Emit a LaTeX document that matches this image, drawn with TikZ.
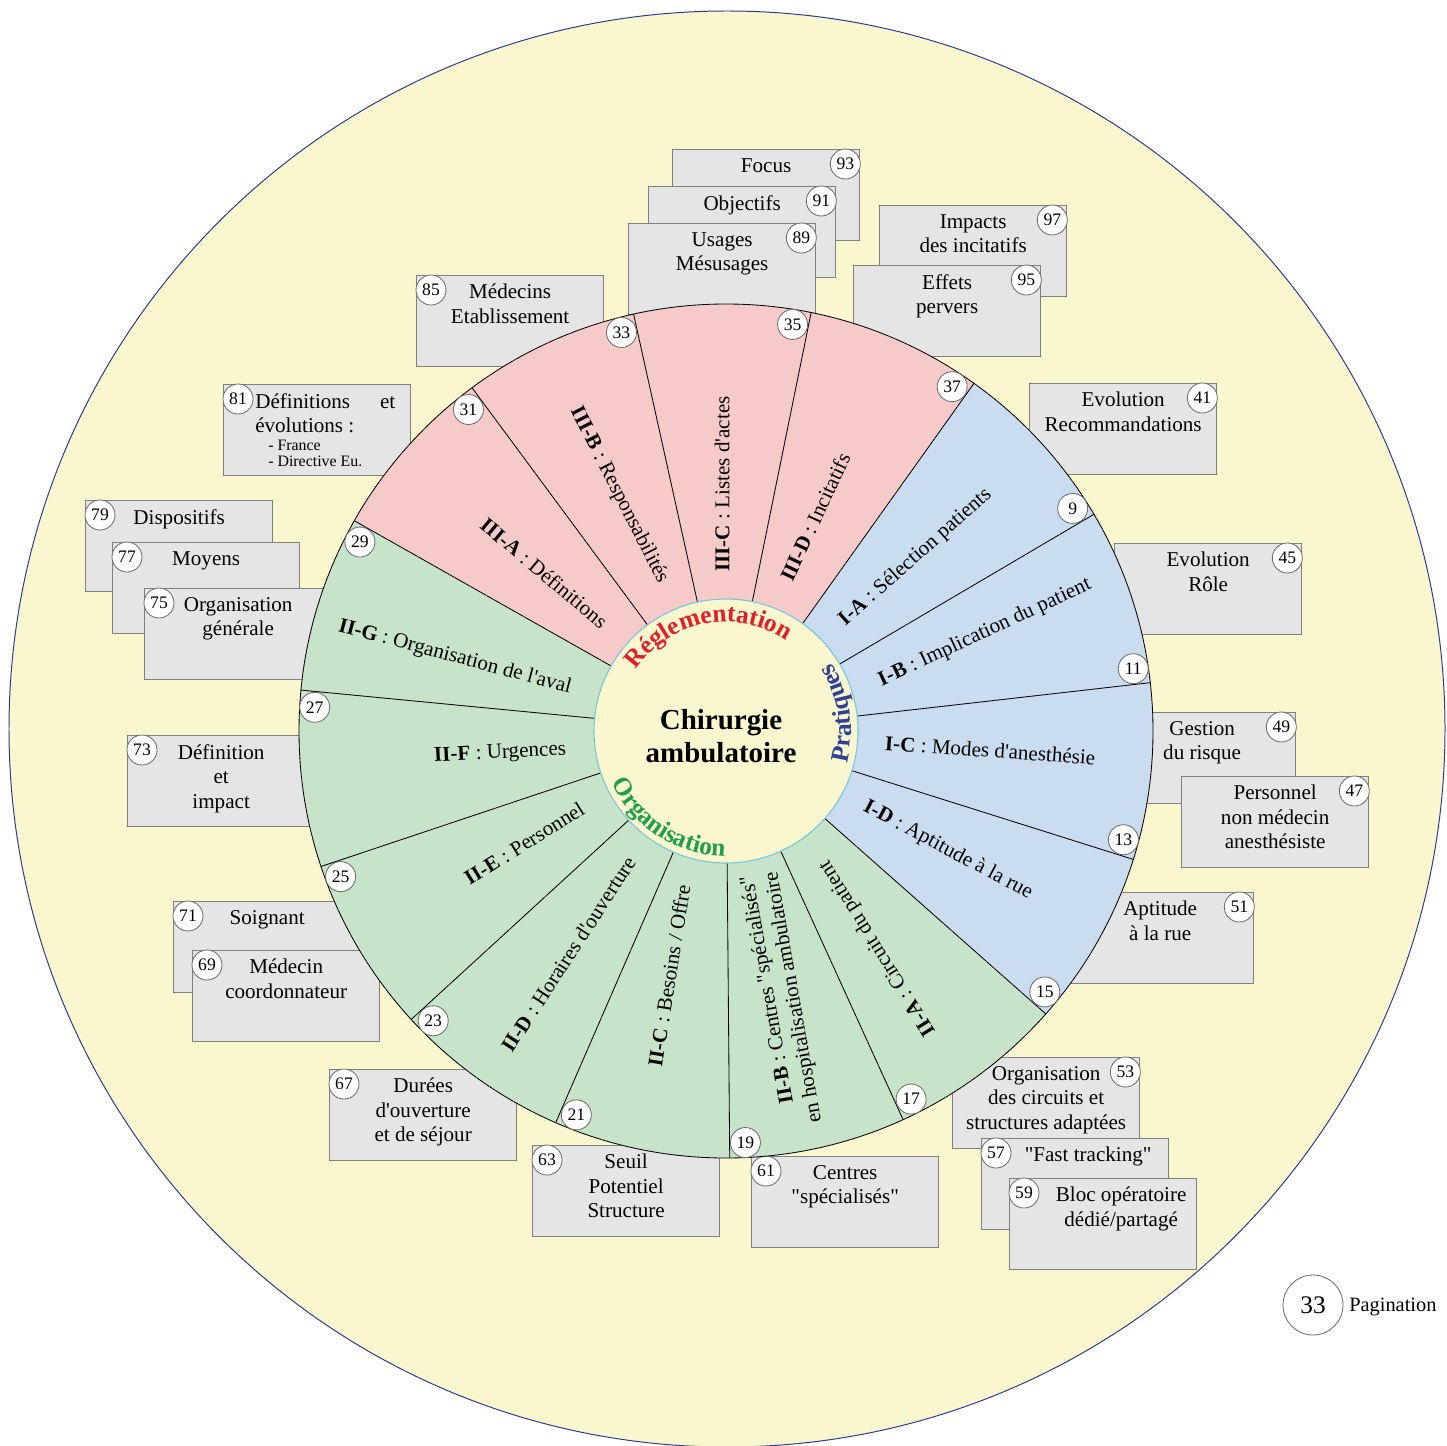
\documentclass[tikz,border=0pt]{standalone}
\usepackage{fontspec}
\setmainfont{Liberation Serif}[Ligatures=TeXOff]
\usetikzlibrary{calc, decorations.text}

\definecolor{bgyellow}{RGB}{250,247,206}
\definecolor{regpink}{RGB}{247,202,202}
\definecolor{pratblue}{RGB}{202,220,240}
\definecolor{orggreen}{RGB}{199,227,201}
\definecolor{boxgray}{RGB}{229,229,229}
\definecolor{boxline}{RGB}{128,128,128}
\definecolor{numline}{RGB}{110,110,110}
\definecolor{ringcyan}{RGB}{120,200,220}
\definecolor{rimblue}{RGB}{40,60,150}
\definecolor{regred}{RGB}{228,30,40}
\definecolor{pratnavy}{RGB}{45,65,150}
\definecolor{orgtext}{RGB}{30,160,75}

\newcommand{\curvefont}{\fontsize{18}{20}\selectfont\bfseries}

\tikzset{infobox/.style={draw=boxline, line width=0.9pt, fill=boxgray, minimum width=4.675cm, minimum height=2.275cm, inner sep=0, anchor=north west}}
\tikzset{boxtext/.style={anchor=north, inner sep=0, align=center, font=\fontsize{15}{17.4}\selectfont}}
\tikzset{num/.style={circle, draw=numline, fill=white, line width=0.6pt, minimum size=0.75cm, inner sep=0, font=\fontsize{12.5}{13}\selectfont}}
\tikzset{seclabel/.style={inner sep=0, font=\fontsize{15}{17.4}\selectfont}}
\tikzset{spoke/.style={line width=0.6pt, black}}

\begin{document}
\begin{tikzpicture}[x=0.025cm, y=-0.025cm]

	% Frame
	\useasboundingbox (0,0) rectangle (1446,1446);
	\fill[white] (0,0) rectangle (1446,1446);
	\draw[fill=bgyellow, draw=rimblue, line width=0.7pt] (727,729) circle (718);

	% Boxes
	%% Reglementation
	\node[infobox] (b93) at (672,149) {};
	\node[boxtext] (t93) at ($(b93.north)+(0,9)$) {Focus};
	\node[num] (n93) at ($(b93.north east)+(-15,15)$) {93};
	\node[infobox] (b91) at (648,186) {};
	\node[boxtext] (t91) at ($(b91.north)+(0,9)$) {Objectifs};
	\node[num] (n91) at ($(b91.north east)+(-15,15)$) {91};
	\node[infobox] (b89) at (628,223) {};
	\node[boxtext] (t89) at ($(b89.north)+(0,9)$) {Usages\\Mésusages};
	\node[num] (n89) at ($(b89.north east)+(-15,15)$) {89};
	\node[infobox] (b85) at (416,275) {};
	\node[boxtext] (t85) at ($(b85.north)+(0,9)$) {Médecins\\Etablissement};
	\node[num] (n85) at ($(b85.north west)+(15,15)$) {85};
	\node[infobox] (b97) at (879,205) {};
	\node[boxtext] (t97) at ($(b97.north)+(0,9)$) {Impacts\\des incitatifs};
	\node[num] (n97) at ($(b97.north east)+(-15,15)$) {97};
	\node[infobox] (b95) at (853,265) {};
	\node[boxtext] (t95) at ($(b95.north)+(0,9)$) {Effets\\pervers};
	\node[num] (n95) at ($(b95.north east)+(-15,15)$) {95};
	\node[infobox] (b81) at (223,384) {};
	\node[boxtext, anchor=north west, align=left] (t81) at (255,393) {\makebox[3.5cm]{Définitions\hfill et}\\évolutions :};
	\node[anchor=north west, inner sep=0, align=left, font=\fontsize{11.3}{11.4}\selectfont] (t81b) at (268,440) {- France\\- Directive Eu.};
	\node[num] (n81) at ($(b81.north west)+(15,15)$) {81};

	%% Pratiques
	\node[infobox] (b41) at (1029,383) {};
	\node[boxtext] (t41) at ($(b41.north)+(0,9)$) {Evolution\\Recommandations};
	\node[num] (n41) at ($(b41.north east)+(-15,15)$) {41};
	\node[infobox] (b45) at (1114,543) {};
	\node[boxtext] (t45) at ($(b45.north)+(0,9)$) {Evolution\\Rôle};
	\node[num] (n45) at ($(b45.north east)+(-15,15)$) {45};
	\node[infobox] (b49) at (1108,712) {};
	\node[boxtext] (t49) at ($(b49.north)+(0,9)$) {Gestion\\du risque};
	\node[num] (n49) at ($(b49.north east)+(-15,15)$) {49};
	\node[infobox] (b47) at (1181,776) {};
	\node[boxtext] (t47) at ($(b47.north)+(0,9)$) {Personnel\\non médecin\\anesthésiste};
	\node[num] (n47) at ($(b47.north east)+(-15,15)$) {47};
	\node[infobox] (b51) at (1066,892) {};
	\node[boxtext] (t51) at ($(b51.north)+(0,9)$) {Aptitude\\à la rue};
	\node[num] (n51) at ($(b51.north east)+(-15,15)$) {51};

	%% Organisation
	\node[infobox] (b53) at (952,1057) {};
	\node[boxtext] (t53) at ($(b53.north)+(0,9)$) {Organisation\\des circuits et\\structures adaptées};
	\node[num] (n53) at ($(b53.north east)+(-15,15)$) {53};
	\node[infobox] (b57) at (981,1138) {};
	\node[boxtext] (t57) at ($(b57.north)+(13,9)$) {"Fast tracking"};
	\node[num] (n57) at ($(b57.north west)+(15,15)$) {57};
	\node[infobox] (b59) at (1009,1178) {};
	\node[boxtext] (t59) at ($(b59.north)+(18,9)$) {Bloc opératoire\\dédié/partagé};
	\node[num] (n59) at ($(b59.north west)+(15,15)$) {59};
	\node[infobox] (b61) at (751,1156) {};
	\node[boxtext] (t61) at ($(b61.north)+(0,9)$) {Centres\\"spécialisés"};
	\node[num] (n61) at ($(b61.north west)+(15,15)$) {61};
	\node[infobox] (b63) at (532,1145) {};
	\node[boxtext] (t63) at ($(b63.north)+(0,9)$) {Seuil\\Potentiel\\Structure};
	\node[num] (n63) at ($(b63.north west)+(15,15)$) {63};
	\node[infobox] (b67) at (329,1069) {};
	\node[boxtext] (t67) at ($(b67.north)+(0,9)$) {Durées\\d'ouverture\\et de séjour};
	\node[num] (n67) at ($(b67.north west)+(15,15)$) {67};
	\node[infobox] (b71) at (173,901) {};
	\node[boxtext] (t71) at ($(b71.north)+(0,9)$) {Soignant};
	\node[num] (n71) at ($(b71.north west)+(15,15)$) {71};
	\node[infobox] (b69) at (192,950) {};
	\node[boxtext] (t69) at ($(b69.north)+(0,9)$) {Médecin\\coordonnateur};
	\node[num] (n69) at ($(b69.north west)+(15,15)$) {69};
	\node[infobox] (b73) at (127,735) {};
	\node[boxtext] (t73) at ($(b73.north)+(0,9)$) {Définition\\et\\impact};
	\node[num] (n73) at ($(b73.north west)+(15,15)$) {73};
	\node[infobox] (b79) at (85,500) {};
	\node[boxtext] (t79) at ($(b79.north)+(0,9)$) {Dispositifs};
	\node[num] (n79) at ($(b79.north west)+(15,15)$) {79};
	\node[infobox] (b77) at (112,542) {};
	\node[boxtext] (t77) at ($(b77.north)+(0,9)$) {Moyens};
	\node[num] (n77) at ($(b77.north west)+(15,15)$) {77};
	\node[infobox] (b75) at (144,588) {};
	\node[boxtext] (t75) at ($(b75.north)+(0,9)$) {Organisation\\générale};
	\node[num] (n75) at ($(b75.north west)+(15,15)$) {75};

	% Wheel
	\begin{scope}[shift={(726,731)}, y=0.025cm]
		%% Sectors
		\fill[regpink] (0,0) -- (54.5:427) arc (54.5:150.5:427) -- cycle;
		\fill[pratblue] (0,0) -- (-41.5:427) arc (-41.5:54.5:427) -- cycle;
		\fill[orggreen] (0,0) -- (150.5:427) arc (150.5:318.5:427) -- cycle;
		\foreach \a in {6.5,30.5,...,342.5}
			\draw[spoke] (\a:132) -- (\a:427);
		\draw[spoke] (0,0) circle (427);
		\draw[fill=bgyellow, draw=ringcyan, line width=0.8pt] (0,0) circle (132);

		%% Center
		\node[align=center, font=\fontsize{20.6}{23.5}\selectfont\bfseries] (core) at (-5,-5) {Chirurgie\\ambulatoire};
		\path[decorate, decoration={text along path, text={|\curvefont|Réglementation}, text align=center, text color=regred}] (156:109) arc (156:46:109);
		\path[decorate, decoration={text along path, text={|\curvefont|Pratiques}, text align=center, text color=pratnavy}] (-21:125) arc (-21:39:125);
		\path[decorate, decoration={text along path, text={|\curvefont|Organisation}, text align=center, text color=orgtext}] (-158:125) arc (-158:-88:125);

		%% Labels
		\node[seclabel, rotate=-40] (s3a) at (139:241) {\textbf{III-A} : Définitions};
		\node[seclabel, rotate=-63] (s3b) at (114.4:259) {\textbf{III-B} : Responsabilités};
		\node[seclabel, rotate=90] (s3c) at (90.9:247) {\textbf{III-C} : Listes d'actes};
		\node[seclabel, rotate=65] (s3d) at (67.4:232) {\textbf{III-D} : Incitatifs};
		\node[seclabel, rotate=41.6] (s1a) at (42.5:257) {\textbf{I-A} : Sélection patients};
		\node[seclabel, rotate=25] (s1b) at (20.8:277) {\textbf{I-B} : Implication du patient};
		\node[seclabel, rotate=-4] (s1c) at (-4.2:265) {\textbf{I-C} : Modes d'anesthésie};
		\node[seclabel, rotate=-28] (s1d) at (-28.3:252) {\textbf{I-D} : Aptitude à la rue};
		\node[seclabel, rotate=122] (s2a) at (-55.1:265) {\textbf{II-A} : Circuit du patient};
		\node[seclabel, rotate=100, align=right] (s2b) at (-78.2:274) {\textbf{II-B} : Centres "spécialisés"\\en hospitalisation ambulatoire};
		\node[seclabel, rotate=81] (s2c) at (-103.1:251) {\textbf{II-C} : Besoins / Offre};
		\node[seclabel, rotate=57] (s2d) at (-125.2:273) {\textbf{II-D} : Horaires d'ouverture};
		\node[seclabel, rotate=32] (s2e) at (-150.9:231) {\textbf{II-E} : Personnel};
		\node[seclabel, rotate=3] (s2f) at (185.7:227) {\textbf{II-F} : Urgences};
		\node[seclabel, rotate=-15] (s2g) at (164.8:281) {\textbf{II-G} : Organisation de l'aval};

		%% Page numbers
		\foreach \a/\n in {102.5/33, 78.5/35, 54.5/37, 30.5/9, 6.5/11, -17.5/13, -41.5/15, -65.5/17, -89.5/19, -113.5/21, -137.5/23, -161.5/25, 174.5/27, 150.5/29, 126.5/31}
			\node[num] (w\n) at ({\a+2.2}:412) {\n};
	\end{scope}

	% Pagination
	\node[num, minimum size=1.5cm, font=\fontsize{18}{20}\selectfont] (pg) at (1313,1305) {33};
	\node[anchor=west, inner sep=0, font=\fontsize{14.5}{16}\selectfont] (pgtext) at (1349,1307) {Pagination};
\end{tikzpicture}
\end{document}
